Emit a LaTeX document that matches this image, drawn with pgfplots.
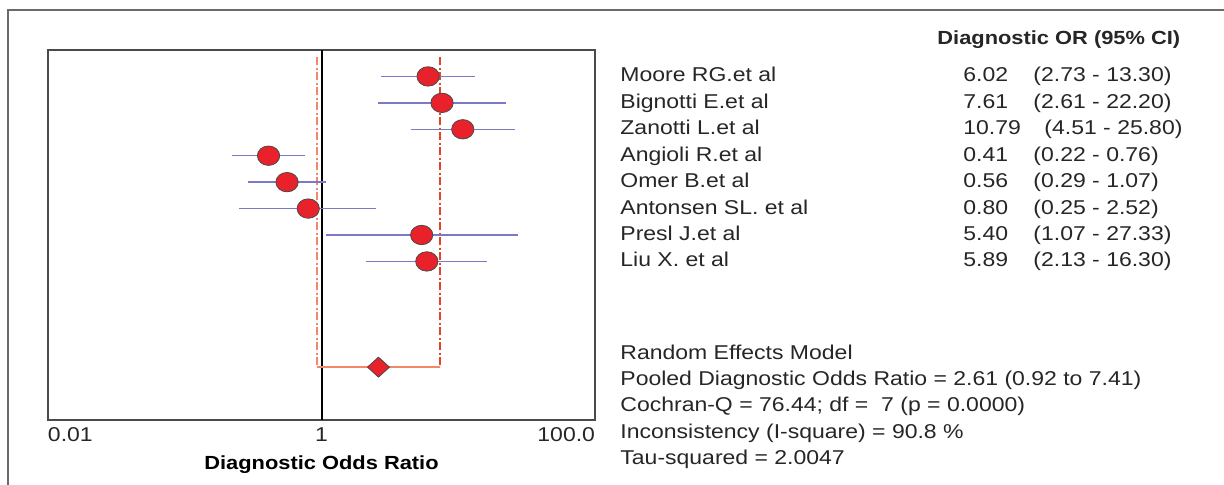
\documentclass[border=0pt]{standalone}
\usepackage{pgfplots}
\pgfplotsset{compat=1.18}
\usepackage{pgfplotstable}
\usepackage{fontspec}
\setmainfont{Liberation Sans}
\usepackage{graphicx}
\newcommand\sx[1]{\scalebox{1.15}[1]{#1}}
\definecolor{cired}{HTML}{E8212A}
\definecolor{cibar}{HTML}{7A7AC6}
\definecolor{salmon}{HTML}{F5856B}
\definecolor{redline}{HTML}{E0452A}
\definecolor{axgray}{HTML}{4A4A4A}
\definecolor{framegray}{HTML}{6A6A6A}

\pgfplotstableread{
y or lo hi
1 6.02 2.73 13.30
2 7.61 2.61 22.20
3 10.79 4.51 25.80
4 0.41 0.22 0.76
5 0.56 0.29 1.07
6 0.80 0.25 2.52
7 5.40 1.07 27.33
8 5.89 2.13 16.30
}\studies

\begin{document}
\begin{tikzpicture}
\useasboundingbox (0,0) rectangle (612pt,-242.5pt);
\begin{axis}[
  at={(24pt,-25pt)}, anchor=north west,
  scale only axis, width=273.5pt, height=185pt,
  xmode=log, xmin=0.01, xmax=100,
  ymin=0, ymax=14, y dir=reverse,
  ytick=\empty,
  xtick={0.01,1,100},
  xticklabels={\rlap{\sx{0.01}},\sx{1},\llap{\sx{100.0}}},
  major tick length=0pt, minor tick length=0pt,
  tick style={draw=none},
  xticklabel style={anchor=base, yshift=-10.5pt, inner sep=0pt, font=\fontsize{10}{12}\selectfont, text=black!85},
  axis line style={axgray, line width=0.75pt},
  xlabel={\sx{Diagnostic Odds Ratio}},
  xlabel style={at={(axis description cs:0.5,0)}, anchor=base, yshift=-24.5pt, inner sep=0pt, font=\bfseries\fontsize{9.5}{11}\selectfont},
  clip=false,
]
% reference line at OR = 1
\addplot[black, line width=1pt] coordinates {(1,0) (1,14)};
% pooled CI box
\addplot[salmon, line width=1pt, dash pattern=on 4pt off 1.3pt on 0.9pt off 1.3pt] coordinates {(0.92,0.27) (0.92,12)};
\addplot[redline, line width=1pt, dash pattern=on 4pt off 1.3pt on 0.9pt off 1.3pt] coordinates {(7.41,0.27) (7.41,12)};
\addplot[salmon, line width=0.9pt] coordinates {(0.92,12) (7.41,12)};
% study points
\addplot[only marks, mark=*, mark size=4.85pt, mark options={xscale=1.15, fill=cired, draw=axgray, line width=0.4pt}] table[x=or, y=y] {\studies};
% confidence intervals
\addplot[cibar, line width=0.75pt, unbounded coords=jump] coordinates {
(2.73,1) (13.30,1) (nan,nan)
(2.61,2) (22.20,2) (nan,nan)
(4.51,3) (25.80,3) (nan,nan)
(0.22,4) (0.76,4) (nan,nan)
(0.29,5) (1.07,5) (nan,nan)
(0.25,6) (2.52,6) (nan,nan)
(1.07,7) (27.33,7) (nan,nan)
(2.13,8) (16.30,8)
};
% pooled estimate
\addplot[only marks, mark=diamond*, mark size=5pt, mark options={xscale=1.47, fill=cired, draw=axgray, line width=0.4pt}] coordinates {(2.61,12)};
\end{axis}

\begin{scope}[x=0.5pt, y=-0.5pt]
\draw[framegray, line width=0.75pt] (8,485) -- (8,10) -- (1224,10);
\begin{scope}[every node/.style={inner sep=0pt, anchor=base west, font=\fontsize{10}{12}\selectfont, text=black!85}]
\node[font=\bfseries\fontsize{9.5}{11}\selectfont] at (937,45) {\sx{Diagnostic OR (95\% CI)}};
\node at (620,82)    {\sx{Moore RG.et al}};
\node at (620,108.5) {\sx{Bignotti E.et al}};
\node at (620,135)   {\sx{Zanotti L.et al}};
\node at (620,161.5) {\sx{Angioli R.et al}};
\node at (620,188)   {\sx{Omer B.et al}};
\node at (620,214.5) {\sx{Antonsen SL. et al}};
\node at (620,240.5) {\sx{Presl J.et al}};
\node at (620,266.5) {\sx{Liu X. et al}};
\node at (963,82)    {\sx{6.02}};
\node at (963,108.5) {\sx{7.61}};
\node at (963,135)   {\sx{10.79}};
\node at (963,161.5) {\sx{0.41}};
\node at (963,188)   {\sx{0.56}};
\node at (963,214.5) {\sx{0.80}};
\node at (963,240.5) {\sx{5.40}};
\node at (963,266.5) {\sx{5.89}};
\node at (1033,82)    {\sx{(2.73 - 13.30)}};
\node at (1033,108.5) {\sx{(2.61 - 22.20)}};
\node at (1044,135)   {\sx{(4.51 - 25.80)}};
\node at (1033,161.5) {\sx{(0.22 - 0.76)}};
\node at (1033,188)   {\sx{(0.29 - 1.07)}};
\node at (1033,214.5) {\sx{(0.25 - 2.52)}};
\node at (1033,240.5) {\sx{(1.07 - 27.33)}};
\node at (1033,266.5) {\sx{(2.13 - 16.30)}};
\node at (620,360) {\sx{Random Effects Model}};
\node at (620,386) {\sx{Pooled Diagnostic Odds Ratio = 2.61 (0.92 to 7.41)}};
\node at (620,412) {\sx{Cochran-Q = 76.44; df = \ 7 (p = 0.0000)}};
\node at (620,438) {\sx{Inconsistency (I-square) = 90.8 \%}};
\node at (620,464) {\sx{Tau-squared = 2.0047}};
\end{scope}
\end{scope}
\end{tikzpicture}
\end{document}
